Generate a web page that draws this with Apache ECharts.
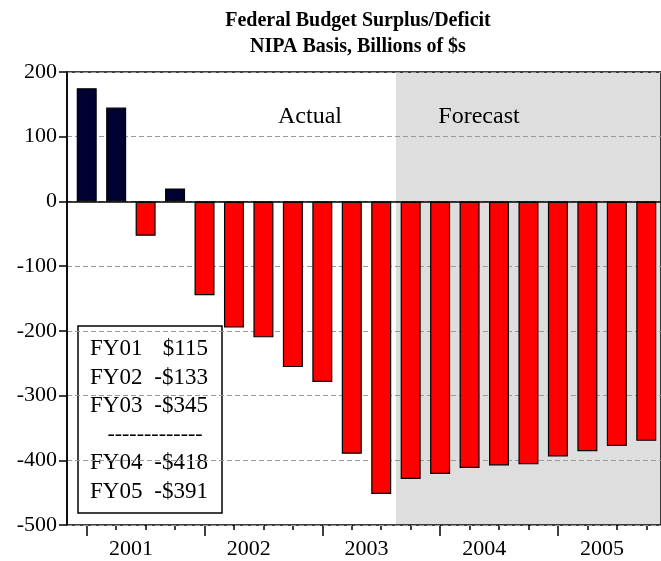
<!DOCTYPE html>
<html>
<head>
<meta charset="utf-8">
<script src="https://cdn.jsdelivr.net/npm/echarts@6/dist/echarts.min.js"></script>
<style>
html,body{margin:0;padding:0;background:#fff;}
#chart{width:661px;height:561px;}
</style>
</head>
<body>
<div id="chart"></div>
<script>
const categories = ['2001Q1','2001Q2','2001Q3','2001Q4','2002Q1','2002Q2','2002Q3','2002Q4',
  '2003Q1','2003Q2','2003Q3','2003Q4','2004Q1','2004Q2','2004Q3','2004Q4',
  '2005Q1','2005Q2','2005Q3','2005Q4'];
const values = [175,145,-53,20,-145,-195,-210,-256,-279,-390,-452,-429,-421,-412,-408,-406,-394,-386,-378,-370];
const years = ['2001','2002','2003','2004','2005'];
const yMin = -500, yMax = 200, yStep = 100;
const forecastStart = '2003Q4';
const titleLines = ['Federal Budget Surplus/Deficit','NIPA Basis, Billions of $s'];
const periodLabels = ['Actual','Forecast'];
const fyLabels = ['FY01','FY02','FY03','FY04','FY05'];
const fyValues = ['$115','-$133','-$345','-$418','-$391'];
const fySeparatorAfter = 3;

const SERIF = '"Liberation Serif", "DejaVu Serif", serif';
const chart = echarts.init(document.getElementById('chart'));
const fIdx = categories.indexOf(forecastStart);

// text box children
const boxChildren = [{
  type:'rect', shape:{x:0,y:0,width:144,height:187},
  style:{fill:'#fff',stroke:'#000',lineWidth:1.5}
}];
let row = 0;
fyLabels.forEach((lab,i)=>{
  if(i===fySeparatorAfter){
    boxChildren.push({type:'text',x:77,y:23+row*28.5,
      style:{text:'-------------',font:'22px '+SERIF,fill:'#000',textAlign:'center',textVerticalAlign:'middle'}});
    row++;
  }
  boxChildren.push({type:'text',x:12,y:23+row*28.5,
    style:{text:lab,font:'23px '+SERIF,fill:'#000',textAlign:'left',textVerticalAlign:'middle'}});
  boxChildren.push({type:'text',x:130,y:23+row*28.5,
    style:{text:fyValues[i],font:'23px '+SERIF,fill:'#000',textAlign:'right',textVerticalAlign:'middle'}});
  row++;
});

const noZero = {show:false,onZero:false};
const option = {
  backgroundColor:'#fff',
  animation:false,
  grid:[
    {left:67,top:72,right:-4,bottom:36,show:true,borderColor:'#000',borderWidth:1.5,backgroundColor:'transparent',z:1.5},
    {left:72,top:72,right:-4,bottom:36}
  ],
  xAxis:[
    {gridIndex:0,type:'category',data:categories,show:false,axisLine:noZero},
    {gridIndex:1,type:'category',data:categories,position:'bottom',
      axisLine:noZero,axisLabel:{show:false},splitLine:{show:false},
      axisTick:{show:true,alignWithLabel:true,interval:0,length:5,lineStyle:{color:'#000',width:1.5}}},
    {gridIndex:1,type:'category',data:categories,position:'bottom',
      axisLine:noZero,axisLabel:{show:false},splitLine:{show:false},
      axisTick:{show:true,alignWithLabel:true,interval:function(i){return i%4===0;},length:11,lineStyle:{color:'#000',width:1.5}}},
    {gridIndex:1,type:'category',data:years,position:'bottom',
      axisLine:noZero,axisTick:{show:false},splitLine:{show:false},
      axisLabel:{show:true,color:'#000',fontFamily:SERIF,fontSize:22,margin:13}},
    {gridIndex:1,type:'value',min:0,max:categories.length,show:false,position:'bottom',axisLine:noZero}
  ],
  yAxis:[
    {gridIndex:0,type:'value',min:yMin,max:yMax,interval:yStep,z:1.5,
      axisLine:{show:true,lineStyle:{color:'#000',width:1.5}},
      axisTick:{show:true,inside:false,length:8,lineStyle:{color:'#000',width:1.5}},
      axisLabel:{color:'#000',fontFamily:SERIF,fontSize:22,margin:10},
      splitLine:{show:true,lineStyle:{color:'#999',type:[5,3],width:1}}},
    {gridIndex:1,type:'value',min:yMin,max:yMax,interval:yStep,show:false}
  ],
  series:[
    {
      type:'line', xAxisIndex:4, yAxisIndex:1, data:[], z:-1, silent:true,
      markArea:{silent:true,itemStyle:{color:'#dedede'},
        data:[[{xAxis:fIdx,yAxis:yMax},{xAxis:categories.length,yAxis:yMin}]]}
    },
    {
      type:'bar', xAxisIndex:1, yAxisIndex:1, barWidth:20, z:3,
      data:values,
      itemStyle:{
        color:function(p){return p.value>=0?'#000033':'#ff0000';},
        borderColor:'#000',borderWidth:1.2
      }
    },
    {
      type:'line', xAxisIndex:0, yAxisIndex:0, data:[], silent:true,
      markLine:{silent:true,symbol:'none',label:{show:false},z:6,
        lineStyle:{color:'#000',type:'solid',width:1.5},
        data:[{yAxis:0}]}
    }
  ],
  graphic:[
    {type:'text',x:358,y:21,z:100,style:{text:titleLines[0],font:'bold 20px '+SERIF,fill:'#000',textAlign:'center',textVerticalAlign:'middle'}},
    {type:'text',x:358,y:47,z:100,style:{text:titleLines[1],font:'bold 20px '+SERIF,fill:'#000',textAlign:'center',textVerticalAlign:'middle'}},
    {type:'text',x:310,y:117,z:100,style:{text:periodLabels[0],font:'24px '+SERIF,fill:'#000',textAlign:'center',textVerticalAlign:'middle'}},
    {type:'text',x:479,y:117,z:100,style:{text:periodLabels[1],font:'24px '+SERIF,fill:'#000',textAlign:'center',textVerticalAlign:'middle'}},
    {type:'group',x:78,y:326,z:100,children:boxChildren}
  ]
};
chart.setOption(option);
</script>
</body>
</html>
